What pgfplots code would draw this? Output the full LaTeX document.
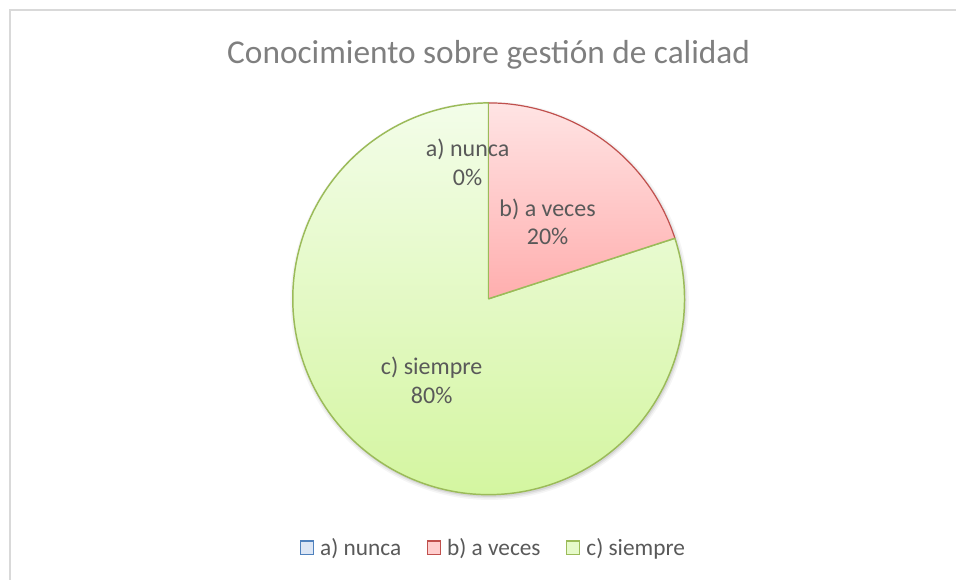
\documentclass[border=0pt]{standalone}
\usepackage{pgfplots}
\pgfplotsset{compat=1.18}
\usepackage{fontspec}
\setmainfont{Carlito}

\definecolor{txt}{HTML}{595959}
\definecolor{ttl}{HTML}{7F7F7F}
\definecolor{redline}{HTML}{C0504D}
\definecolor{greenline}{HTML}{9BBB59}
\definecolor{blueline}{HTML}{4F81BD}
\definecolor{bluefill}{HTML}{DCE6F5}
\definecolor{redtop}{HTML}{FFE4E4}
\definecolor{redbot}{HTML}{FFAEAE}
\definecolor{greentop}{HTML}{F3FDE9}
\definecolor{greenbot}{HTML}{D2F59C}

% shares in percent
\def\va{0}
\def\vb{20}
\def\vc{80}
\pgfmathsetmacro{\aS}{90}
\pgfmathsetmacro{\aE}{90-3.6*\va}
\pgfmathsetmacro{\bE}{\aE-3.6*\vb}
\pgfmathsetmacro{\cE}{\bE-3.6*\vc}

\pgfplotsset{sq/.style={legend image code/.code={\draw[##1] (0pt,-5pt) rectangle (10pt,5pt);}}}

\begin{document}
\begin{tikzpicture}
\begin{axis}[
  x=0.75pt, y=0.75pt,
  xmin=0, xmax=957, ymin=0, ymax=580,
  hide axis, clip=false,
  legend style={at={(axis cs:494,32)}, anchor=center, draw=none, fill=none,
    legend columns=3, font=\fontsize{17.5}{20}\selectfont, text=txt,
    /tikz/every odd column/.append style={column sep=2.5pt},
    /tikz/every even column/.append style={column sep=17pt},
    legend cell align=left},
]
\path (axis cs:0,0) rectangle (axis cs:957,580);
% frame
\draw[color=black!15, line width=1.1pt] (axis cs:10,0) -- (axis cs:10,570) -- (axis cs:957,570);

% soft shadow
\fill[black, opacity=0.04] (axis cs:490,279) circle[radius=149.5pt];
\fill[black, opacity=0.06] (axis cs:490,279) circle[radius=148.3pt];
\fill[black, opacity=0.08] (axis cs:490,279) circle[radius=147.2pt];
\fill[white] (axis cs:489,281) circle[radius=147pt];

% c) siempre
\shade[top color=greentop, bottom color=greenbot]
  (axis cs:489,281) -- ++(\bE:147pt) arc[start angle=\bE, end angle=\cE, radius=147pt] -- cycle;
\draw[greenline, line width=1.1pt, line join=round]
  (axis cs:489,281) -- ++(\bE:147pt) arc[start angle=\bE, end angle=\cE, radius=147pt] -- cycle;
% b) a veces
\shade[top color=redtop, bottom color=redbot]
  (axis cs:489,281) -- ++(\aE:147pt) arc[start angle=\aE, end angle=\bE, radius=147pt] -- cycle;
\draw[redline, line width=0.9pt]
  (axis cs:489,281) ++(\aE:147pt) arc[start angle=\aE, end angle=\bE, radius=147pt];
\draw[greenline, line width=1.1pt] (axis cs:489,281) -- ++(\bE:147pt);
\draw[greenline, line width=1.1pt] (axis cs:489,281) -- ++(\aS:147pt);

% data labels
\node[text=txt, font=\fontsize{18}{21.75}\selectfont, align=center] at (axis cs:468,418) {a) nunca\\\va\%};
\node[text=txt, font=\fontsize{18}{21.75}\selectfont, align=center] at (axis cs:548,358) {b) a veces\\\vb\%};
\node[text=txt, font=\fontsize{18}{21.75}\selectfont, align=center] at (axis cs:432,199) {c) siempre\\\vc\%};

% title
\node[text=ttl, font=\fontsize{25}{28}\selectfont] at (axis cs:489,525) {Conocimiento sobre gestión de calidad};

\addlegendimage{sq, draw=blueline, fill=bluefill, line width=0.9pt}
\addlegendentry{a) nunca}
\addlegendimage{sq, draw=redline, fill=redtop!60!redbot, line width=0.9pt}
\addlegendentry{b) a veces}
\addlegendimage{sq, draw=greenline, fill=greentop!60!greenbot, line width=0.9pt}
\addlegendentry{c) siempre}
\end{axis}
\end{tikzpicture}
\end{document}
